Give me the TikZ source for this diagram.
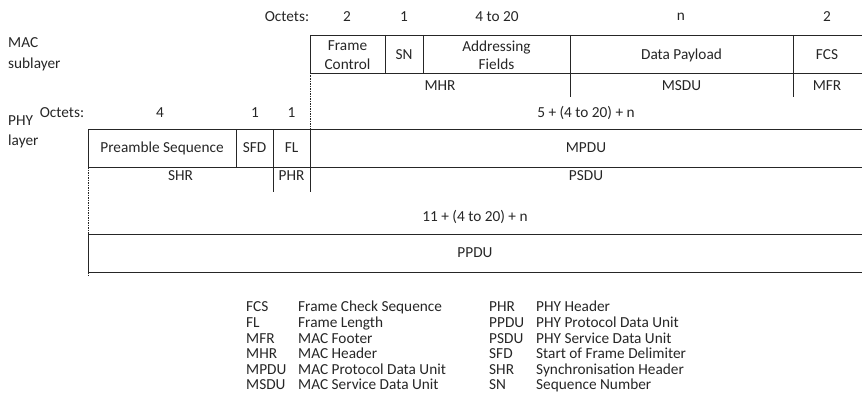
\documentclass[tikz,border=0pt]{standalone}
\usepackage{fontspec}
\setmainfont{Carlito}
\begin{document}
\begin{tikzpicture}[x=1pt,y=-1pt,
  lbl/.style={inner sep=0pt,text=black!85,font=\fontsize{15.3}{18.5}\selectfont},
  ml/.style={lbl,align=center},
  lft/.style={lbl,anchor=west,align=left},
  leg/.style={lbl,anchor=base west},
  ln/.style={draw=black!85,line width=0.8pt},
  dl/.style={draw=black!85,line width=0.8pt,dash pattern=on 1.5pt off 1pt}]
\useasboundingbox (0,0) rectangle (862,412);
% ---- MAC frame lines
\draw[ln] (310,35) -- (862,35);
\draw[ln] (310,73) -- (862,73);
\draw[ln] (310,35) -- (310,73);
\draw[ln] (385,35) -- (385,73);
\draw[ln] (423,35) -- (423,73);
\draw[ln] (570,35) -- (570,97);
\draw[ln] (793,35) -- (793,97);
\draw[dl] (310,73) -- (310,129);
% ---- PHY frame lines
\draw[ln] (88,129) -- (862,129);
\draw[ln] (88,167) -- (862,167);
\draw[ln] (88,129) -- (88,167);
\draw[ln] (236,129) -- (236,167);
\draw[ln] (273,129) -- (273,192);
\draw[ln] (310,129) -- (310,192);
\draw[dl] (88,167) -- (88,234);
% ---- PPDU
\draw[ln] (88,234) -- (862,234);
\draw[ln] (88,272) -- (862,272);
\draw[ln] (88,234) -- (88,272);
\draw[dl] (88,272) -- (88,277);
% ---- top octets
\node[lbl] (oct1) at (287,17) {Octets:};
\node[lbl] (o1a) at (347,17) {2};
\node[lbl] (o1b) at (404,17) {1};
\node[lbl] (o1c) at (497,17) {4 to 20};
\node[lbl] (o1d) at (681,17) {n};
\node[lbl] (o1e) at (827,17) {2};
\node[lft] (mac) at (8,54.5) {MAC\\[2pt]sublayer};
\node[ml] (fc) at (347.5,55) {Frame\\Control};
\node[lbl] (sn) at (404,55) {SN};
\node[ml] (af) at (496.5,55) {Addressing\\Fields};
\node[lbl] (dp) at (681.5,55) {Data Payload};
\node[lbl] (fcs) at (827,55) {FCS};
\node[lbl] (mhr) at (440,86) {MHR};
\node[lbl] (msdu) at (681.5,86) {MSDU};
\node[lbl] (mfr) at (827,86) {MFR};
% ---- second octets
\node[lbl] (oct2) at (62,113) {Octets:};
\node[lbl] (o2a) at (160,113) {4};
\node[lbl] (o2b) at (255,113) {1};
\node[lbl] (o2c) at (291.5,113) {1};
\node[lbl] (sum1) at (586,113) {5 + (4 to 20) + n};
\node[lft] (phy) at (8,132) {PHY\\[2pt]layer};
\node[lbl] (ps) at (162,148) {Preamble Sequence};
\node[lbl] (sfd) at (254.5,148) {SFD};
\node[lbl] (fl) at (291.5,148) {FL};
\node[lbl] (mpdu) at (586,148) {MPDU};
\node[lbl] (shr) at (180.5,176) {SHR};
\node[lbl] (phr) at (291.5,176) {PHR};
\node[lbl] (psdu) at (586,176) {PSDU};
\node[lbl] (sum2) at (475,217) {11 + (4 to 20) + n};
\node[lbl] (ppdu) at (475,253) {PPDU};
% ---- legend
\node[leg] (la1) at (246,311) {FCS};
\node[leg] (ld1) at (298,311) {Frame Check Sequence};
\node[leg] (la2) at (246,327) {FL};
\node[leg] (ld2) at (298,327) {Frame Length};
\node[leg] (la3) at (246,343) {MFR};
\node[leg] (ld3) at (298,343) {MAC Footer};
\node[leg] (la4) at (246,358) {MHR};
\node[leg] (ld4) at (298,358) {MAC Header};
\node[leg] (la5) at (246,374) {MPDU};
\node[leg] (ld5) at (298,374) {MAC Protocol Data Unit};
\node[leg] (la6) at (246,389) {MSDU};
\node[leg] (ld6) at (298,389) {MAC Service Data Unit};
\node[leg] (lb1) at (489,311) {PHR};
\node[leg] (le1) at (536,311) {PHY Header};
\node[leg] (lb2) at (489,327) {PPDU};
\node[leg] (le2) at (536,327) {PHY Protocol Data Unit};
\node[leg] (lb3) at (489,343) {PSDU};
\node[leg] (le3) at (536,343) {PHY Service Data Unit};
\node[leg] (lb4) at (489,358) {SFD};
\node[leg] (le4) at (536,358) {Start of Frame Delimiter};
\node[leg] (lb5) at (489,374) {SHR};
\node[leg] (le5) at (536,374) {Synchronisation Header};
\node[leg] (lb6) at (489,389) {SN};
\node[leg] (le6) at (536,389) {Sequence Number};
\end{tikzpicture}
\end{document}
